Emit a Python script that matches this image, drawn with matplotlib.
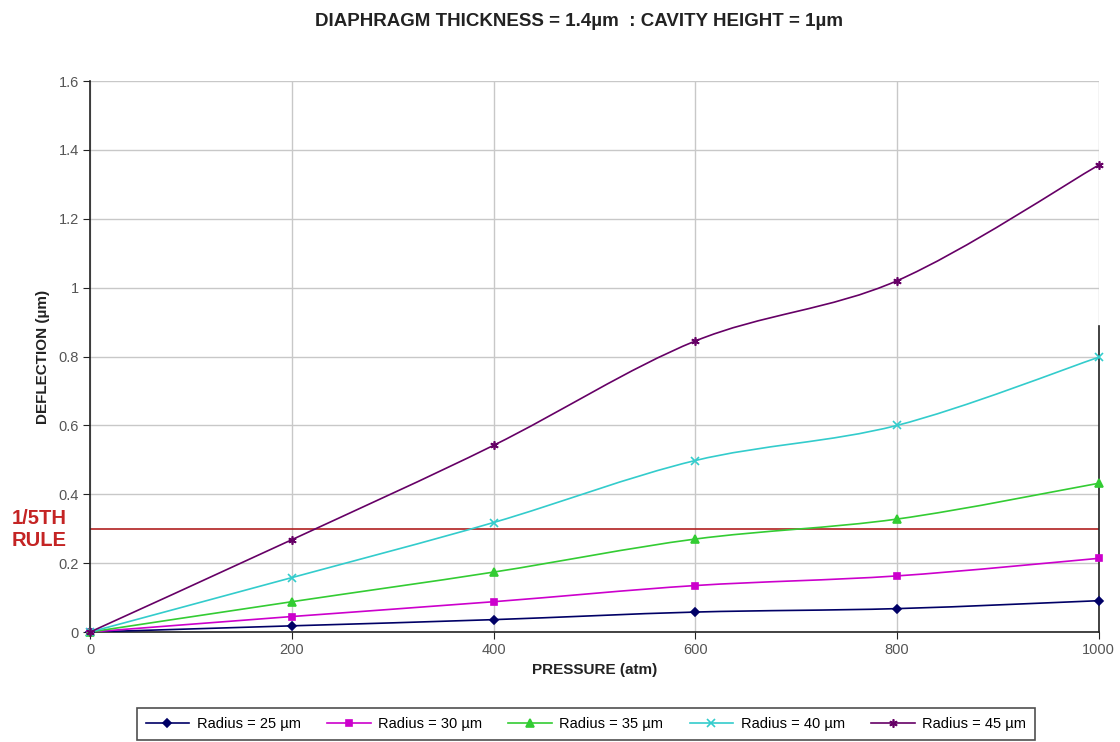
import matplotlib.pyplot as plt
import numpy as np
from matplotlib.path import Path
from matplotlib.patches import PathPatch
from matplotlib.lines import Line2D

plt.rcParams['font.family'] = ['Liberation Sans', 'DejaVu Sans']

# pressure steps (atm) and diaphragm deflection (um) for each radius
pressure = [0, 200, 400, 600, 800, 1000]
radius_25 = [0, 0.018, 0.036, 0.058, 0.068, 0.091]
radius_30 = [0, 0.045, 0.088, 0.135, 0.163, 0.214]
radius_35 = [0, 0.088, 0.174, 0.27, 0.328, 0.432]
radius_40 = [0, 0.158, 0.318, 0.498, 0.6, 0.798]
radius_45 = [0, 0.268, 0.542, 0.845, 1.02, 1.356]
radius_labels = ['Radius = 25 µm', 'Radius = 30 µm', 'Radius = 35 µm',
                 'Radius = 40 µm', 'Radius = 45 µm']
rule_level = 0.3

series = [radius_25, radius_30, radius_35, radius_40, radius_45]
colors = ['#000066', '#cc00cc', '#33cc33', '#33cccc', '#660066']
markers = ['D', 's', '^', 'x', (6, 2, 0)]
msizes = [4, 5, 6, 6, 6]


def smooth_path(x, y, t=1 / 6):
    # Catmull-Rom style bezier through the points (spreadsheet "smoothed line")
    x = np.asarray(x, float)
    y = np.asarray(y, float)
    verts = [(x[0], y[0])]
    codes = [Path.MOVETO]
    n = len(x)
    for i in range(n - 1):
        p0 = np.array([x[max(i - 1, 0)], y[max(i - 1, 0)]])
        p1 = np.array([x[i], y[i]])
        p2 = np.array([x[i + 1], y[i + 1]])
        p3 = np.array([x[min(i + 2, n - 1)], y[min(i + 2, n - 1)]])
        c1 = p1 + (p2 - p0) * t
        c2 = p2 - (p3 - p1) * t
        verts += [tuple(c1), tuple(c2), tuple(p2)]
        codes += [Path.CURVE4] * 3
    return Path(verts, codes)


fig = plt.figure(figsize=(11.2, 7.42), dpi=100)
ax = fig.add_axes([0.0804, 0.1482, 0.9006, 0.7426])

for vals, c, m, ms, lab in zip(series, colors, markers, msizes, radius_labels):
    ax.add_patch(PathPatch(smooth_path(pressure, vals), fill=False,
                           edgecolor=c, lw=1.2, zorder=3))
    ax.plot(pressure, vals, ls='none', marker=m, color=c, ms=ms,
            mew=1.2, zorder=4, clip_on=False)

ax.axhline(rule_level, color='#b02020', lw=1.2, zorder=2)
ax.plot([1000, 1000], [0, 0.89], color='#222222', lw=1.2, zorder=2, clip_on=False)

ax.set_xlim(0, 1000)
ax.set_ylim(0, 1.6)
ax.set_xticks(np.arange(0, 1001, 200))
ax.set_yticks(np.arange(0, 1.61, 0.2))
ax.set_yticklabels(['0', '0.2', '0.4', '0.6', '0.8', '1', '1.2', '1.4', '1.6'])
ax.grid(True, color='#c8c8c8', lw=1.0)
ax.set_axisbelow(True)
for s in ['top', 'right']:
    ax.spines[s].set_visible(False)
for s in ['left', 'bottom']:
    ax.spines[s].set_color('#222222')
    ax.spines[s].set_linewidth(1.2)
ax.tick_params(direction='out', length=5, colors='#222222', labelsize=10.5,
               labelcolor='#555555', pad=3)

ax.set_xlabel('PRESSURE (atm)', fontsize=11, fontweight='bold', labelpad=4,
              color='#222222')
ax.set_ylabel('DEFLECTION (µm)', fontsize=11, fontweight='bold', labelpad=6,
              color='#222222')

fig.text(0.517, 0.971, 'DIAPHRAGM THICKNESS = 1.4µm  : CAVITY HEIGHT = 1µm',
         ha='center', va='center', fontsize=13.5, fontweight='bold', color='#222222')
fig.text(0.035, 0.287, '1/5TH\nRULE', ha='center', va='center', fontsize=14.5,
         fontweight='bold', color='#c42424', linespacing=1.2)

handles = [Line2D([0], [0], color=c, marker=m, ms=ms, lw=1.2, mew=1.2)
           for c, m, ms in zip(colors, markers, msizes)]
leg = fig.legend(handles, radius_labels, loc='center', ncol=5,
                 bbox_to_anchor=(0.523, 0.024), frameon=True, fancybox=False,
                 fontsize=10.5, handlelength=3, columnspacing=1.8,
                 borderpad=0.6, handletextpad=0.5)
leg.get_frame().set_edgecolor('#222222')
leg.get_frame().set_linewidth(1.2)

fig.savefig('out.png', dpi=100)
